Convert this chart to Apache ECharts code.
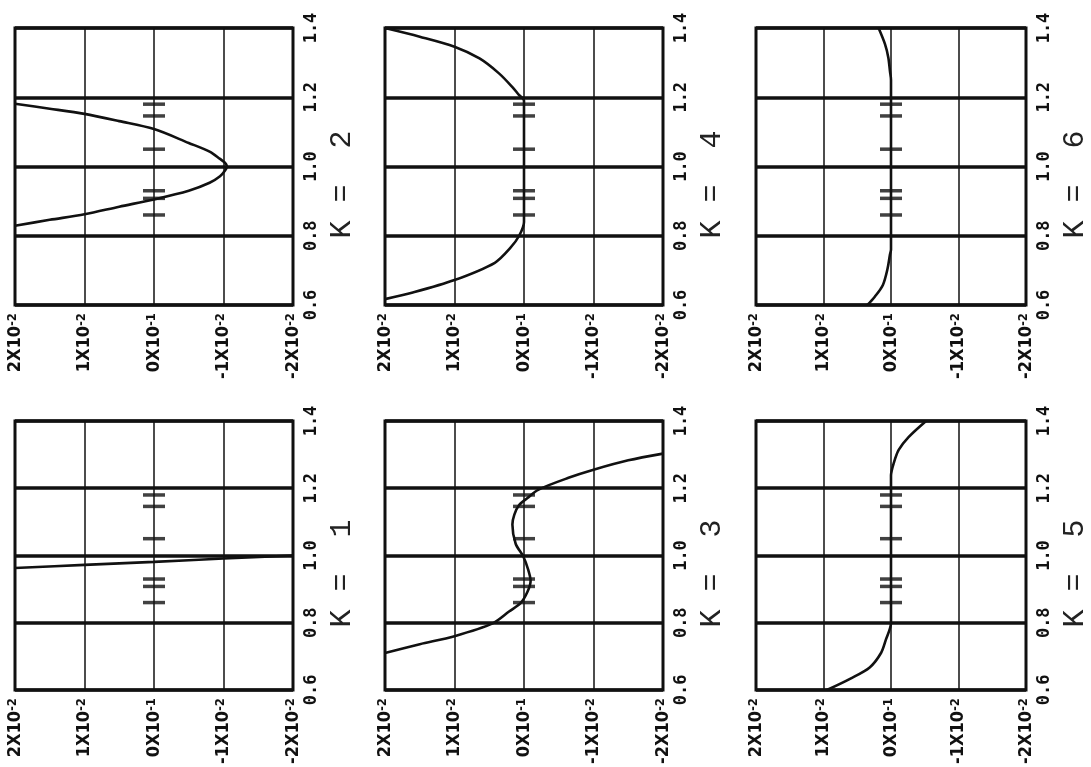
<!DOCTYPE html>
<html>
<head>
<meta charset="utf-8">
<script src="https://cdn.jsdelivr.net/npm/echarts@6/dist/echarts.min.js"></script>
<style>
  html, body { margin: 0; padding: 0; background: #fff; }
  #chart { width: 1091px; height: 767px; }
</style>
</head>
<body>
<div id="chart"></div>
<script>
// Span axis (0.6 … 1.4) and offset axis (units of 10^-2)
const spanTicks = [0.6, 0.8, 1.0, 1.2, 1.4];
const offsetTicks = [2, 1, 0, -1, -2];
const offsetMantissa = ['2', '1', '0', '-1', '-2'];
const offsetExponent = ['-2', '-2', '-1', '-2', '-2'];

// Root markers sitting on the zero line, same in every panel
const markerPositions = [0.86, 0.908, 0.93, 1.05, 1.146, 1.18];

// Mode shapes: [offset (x10^-2), span position]
const curveK1 = [[2, 0.963], [1, 0.972], [0, 0.981], [-1, 0.991], [-2, 1.0]];
const curveK2 = [
  [2, 1.181], [1.5, 1.167], [1.0, 1.152], [0.5, 1.131], [0, 1.108], [-0.5, 1.068],
  [-0.8, 1.043], [-0.95, 1.022], [-1.02, 1.011], [-1.05, 1.0], [-1.02, 0.988],
  [-0.95, 0.972], [-0.8, 0.953], [-0.5, 0.930], [0, 0.905], [0.5, 0.884],
  [1.0, 0.862], [1.5, 0.846], [2, 0.829]
];
const curveK3 = [
  [2, 0.710], [1.5, 0.736], [1.0, 0.760], [0.45, 0.798], [0.21, 0.834], [0.05, 0.858],
  [-0.05, 0.892], [-0.095, 0.925], [-0.06, 0.958], [0.01, 0.997], [0.12, 1.035],
  [0.167, 1.092], [0.14, 1.121], [0.07, 1.15], [-0.05, 1.171], [-0.21, 1.196],
  [-0.64, 1.231], [-1.0, 1.255], [-1.5, 1.283], [-2, 1.303]
];
const curveK4 = [
  [2, 1.4], [1.5, 1.375], [1.0, 1.346], [0.64, 1.312], [0.36, 1.269], [0.17, 1.23],
  [0.07, 1.206], [0.0, 1.19], [0.0, 0.84], [0.07, 0.8], [0.2, 0.764], [0.42, 0.722],
  [1.0, 0.672], [1.6, 0.636], [2, 0.617]
];
const curveK5 = [
  [-0.52, 1.4], [-0.26, 1.352], [-0.114, 1.314], [-0.043, 1.276], [0, 1.237],
  [0, 0.8], [0.077, 0.749], [0.148, 0.71], [0.316, 0.667], [0.6, 0.634], [0.95, 0.6]
];
const curveK6 = [
  [0.184, 1.4], [0.09, 1.354], [0.04, 1.315], [0.016, 1.276], [0, 1.25],
  [0, 0.76], [0.016, 0.745], [0.05, 0.706], [0.12, 0.658], [0.24, 0.624], [0.35, 0.6]
];

const modeNumbers = [1, 2, 3, 4, 5, 6];
const modeCurves = [curveK1, curveK2, curveK3, curveK4, curveK5, curveK6];

// Panel placement: odd modes on the lower row, even modes on the upper row
const columnLeft = [15, 385, 756];
const rowTop = [28, 421];
const panelW = 278, panelH = 277;

const ink = '#111';
const tickFont = "'Liberation Sans Narrow', 'DejaVu Sans Condensed', 'DejaVu Sans', sans-serif";
const monoFont = "'DejaVu Sans Mono', monospace";

const grids = [], xAxes = [], yAxes = [], series = [];

modeNumbers.forEach((k, i) => {
  const col = Math.floor((k - 1) / 2);
  const row = k % 2 === 0 ? 0 : 1;
  grids.push({
    left: columnLeft[col], top: rowTop[row], width: panelW, height: panelH,
    show: true, borderColor: ink, borderWidth: 3, backgroundColor: 'transparent'
  });
  xAxes.push({
    gridIndex: i, type: 'value', inverse: true, position: 'bottom',
    min: -2, max: 2, interval: 1,
    axisLine: { show: false }, axisTick: { show: false },
    splitLine: { show: true, lineStyle: { color: ink, width: 1.5 } },
    axisLabel: {
      rotate: 90, margin: 8,
      formatter: v => {
        const j = offsetTicks.indexOf(Math.round(v));
        return '{m|' + offsetMantissa[j] + 'X10}{e|' + offsetExponent[j] + '}';
      },
      rich: {
        m: { fontFamily: tickFont, fontWeight: 'bold', fontSize: 18, color: ink },
        e: { fontFamily: tickFont, fontWeight: 'bold', fontSize: 13, color: ink, verticalAlign: 'top' }
      }
    }
  });
  yAxes.push({
    gridIndex: i, type: 'value', position: 'right',
    min: spanTicks[0], max: spanTicks[spanTicks.length - 1], interval: 0.2,
    axisLine: { show: false }, axisTick: { show: false },
    splitLine: { show: true, lineStyle: { color: ink, width: 3.5 } },
    axisLabel: {
      rotate: 90, margin: 10, formatter: v => v.toFixed(1),
      fontFamily: monoFont, fontWeight: 'bold', fontSize: 17, color: ink
    },
    name: 'K =  ' + k, nameLocation: 'middle', nameRotate: 90, nameGap: 34,
    nameTextStyle: { fontFamily: "'Liberation Mono', monospace", fontSize: 30, color: '#222', padding: [0, 36, 0, 0] }
  });
  series.push({
    type: 'line', xAxisIndex: i, yAxisIndex: i, data: modeCurves[i],
    showSymbol: false, smooth: 0.3, clip: true,
    lineStyle: { color: ink, width: 2.6 }, z: 3
  });
  series.push({
    type: 'scatter', xAxisIndex: i, yAxisIndex: i,
    data: markerPositions.map(p => [0, p]),
    symbol: 'rect', symbolSize: [22, 3.5],
    itemStyle: { color: ink }, z: 4
  });
});

const chart = echarts.init(document.getElementById('chart'), null, { renderer: 'canvas' });
chart.setOption({
  backgroundColor: '#fff',
  animation: false,
  grid: grids,
  xAxis: xAxes,
  yAxis: yAxes,
  series: series
});
</script>
</body>
</html>
